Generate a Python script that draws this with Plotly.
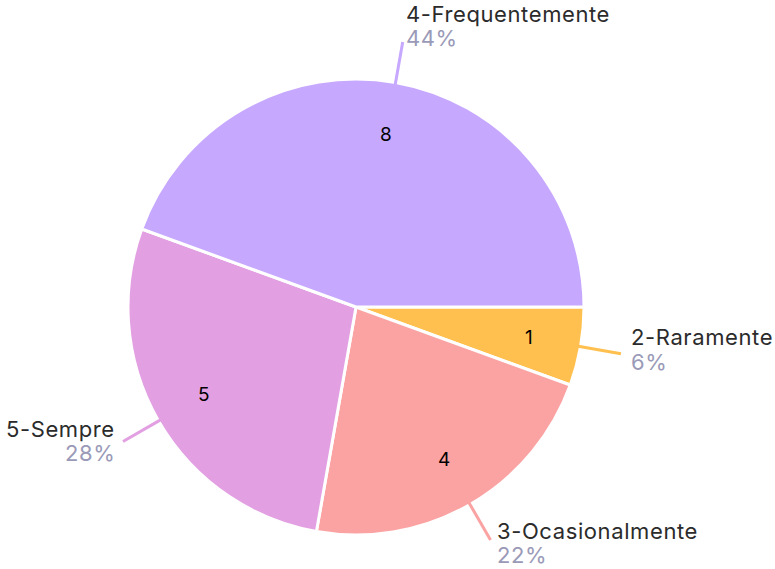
import math
import plotly.graph_objects as go

# ---- data ----
labels = ["2-Raramente", "3-Ocasionalmente", "5-Sempre", "4-Frequentemente"]
values = [1, 4, 5, 8]
colors = ["#FFC04F", "#FBA3A3", "#E2A0E2", "#C7A8FF"]

# ---- layout constants (pixels, figure coordinates) ----
W, H = 775, 569
CX, CY, R = 356, 307, 228
LABEL_COLOR = "#2B2B2B"
PCT_COLOR = "#9A9AB8"
FONT = "Inter, Lato, Arial, sans-serif"
LS = "letter-spacing:0.6px"

fig = go.Figure()
fig.add_trace(go.Pie(
    labels=labels, values=values, sort=False, direction="clockwise", rotation=90,
    marker=dict(colors=colors, line=dict(color="white", width=3)),
    textinfo="none", hoverinfo="label+value+percent", showlegend=False,
    domain=dict(x=[(CX - R) / W, (CX + R) / W], y=[(H - CY - R) / H, (H - CY + R) / H]),
))

def px(x, y):
    return x / W, 1 - y / H

total = sum(values)
cum = 0
annotations = []
shapes = []
for lab, v, col in zip(labels, values, colors):
    mid = (cum + v / 2) / total * 2 * math.pi  # clockwise from east
    cum += v
    dx, dy = math.cos(mid), math.sin(mid)  # screen coords (y down)
    # inner value
    ix, iy = px(CX + 0.77 * R * dx, CY + 0.77 * R * dy)
    annotations.append(dict(x=ix, y=iy, xref="paper", yref="paper", text=str(v),
                            xanchor="center", yanchor="middle",
                            showarrow=False, font=dict(size=19, color="#000000", family=FONT)))
    # leader line
    sx, sy = CX + 0.99 * R * dx, CY + 0.99 * R * dy
    ex, ey = CX + 1.18 * R * dx, CY + 1.18 * R * dy
    x0, y0 = px(sx, sy)
    x1, y1 = px(ex, ey)
    shapes.append(dict(type="line", xref="paper", yref="paper", x0=x0, y0=y0, x1=x1, y1=y1,
                       line=dict(color=col, width=3)))
    pct = round(v / total * 100)
    right = dx >= 0
    if dy < -0.9:
        tx, ly, py_, anchor = ex + 1, ey - 28, ey - 4, "left"
    else:
        gap = 9 - 5 * dy
        tx = ex + gap if right else ex - gap
        ly, py_ = ey - 18 + 10 * dy, ey + 6.5 + 10 * dy
        anchor = "left" if right else "right"
    for text, yy, c in ((lab, ly, LABEL_COLOR), (f"{pct}%", py_, PCT_COLOR)):
        ax, ay = px(tx, yy)
        annotations.append(dict(x=ax, y=ay, xref="paper", yref="paper",
                                text=f"<span style='{LS}'>{text}</span>", showarrow=False,
                                xanchor=anchor, yanchor="middle", align=anchor,
                                font=dict(size=22, family=FONT, color=c)))

fig.update_layout(
    width=W, height=H, margin=dict(l=0, r=0, t=0, b=0),
    paper_bgcolor="white", plot_bgcolor="white",
    annotations=annotations, shapes=shapes,
)
fig.write_html("out.html", config={"displayModeBar": False},
               post_script="document.body.style.margin='0';")
